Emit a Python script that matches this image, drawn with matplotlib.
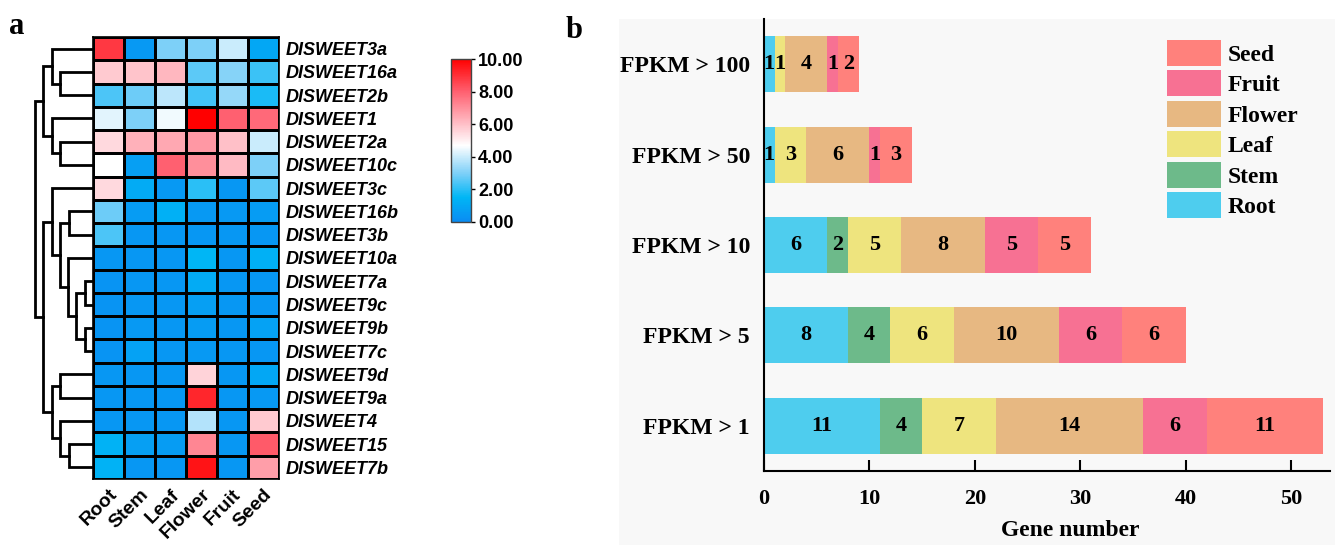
import numpy as np
import matplotlib
matplotlib.use('Agg')
import matplotlib.pyplot as plt
from matplotlib.colors import LinearSegmentedColormap
from matplotlib.patches import Rectangle, Patch

# heatmap data (rows top to bottom)
genes = ['DISWEET3a', 'DISWEET16a', 'DISWEET2b', 'DISWEET1', 'DISWEET2a', 'DISWEET10c',
         'DISWEET3c', 'DISWEET16b', 'DISWEET3b', 'DISWEET10a', 'DISWEET7a', 'DISWEET9c',
         'DISWEET9b', 'DISWEET7c', 'DISWEET9d', 'DISWEET9a', 'DISWEET4', 'DISWEET15', 'DISWEET7b']
tissues = ['Root', 'Stem', 'Leaf', 'Flower', 'Fruit', 'Seed']
expr = [
    [8.8, 0.5, 3.0, 3.0, 4.0, 1.0],
    [5.8, 5.9, 6.2, 2.6, 3.1, 2.2],
    [2.4, 2.8, 3.8, 2.3, 3.3, 1.8],
    [4.3, 3.0, 4.5, 10.0, 8.0, 7.8],
    [5.5, 6.3, 6.5, 6.8, 6.0, 4.0],
    [4.7, 0.7, 8.0, 7.0, 6.1, 3.0],
    [5.5, 1.1, 0.5, 2.0, 0.4, 2.6],
    [2.8, 0.6, 1.3, 0.5, 0.5, 0.6],
    [2.4, 0.4, 0.4, 0.4, 0.4, 0.4],
    [0.4, 0.4, 0.4, 1.5, 0.4, 1.3],
    [0.3, 0.4, 0.4, 1.1, 0.4, 0.4],
    [0.3, 0.4, 0.4, 0.7, 0.4, 0.4],
    [0.3, 0.5, 0.4, 0.6, 0.4, 0.8],
    [0.3, 0.8, 0.4, 0.5, 0.4, 0.4],
    [0.4, 0.4, 0.4, 5.6, 0.4, 1.0],
    [0.4, 0.4, 0.4, 9.2, 0.4, 0.5],
    [0.4, 0.4, 0.4, 3.7, 0.4, 5.8],
    [1.4, 0.7, 0.6, 7.2, 0.4, 8.1],
    [1.4, 0.4, 0.4, 9.6, 0.4, 6.7],
]

# row clustering tree: (left, right, merge height)
tree = (
    (('DISWEET3a', ('DISWEET16a', 'DISWEET2b', 33), 41.3),
     ('DISWEET1', ('DISWEET2a', 'DISWEET10c', 33), 41.3), 49.7),
    (('DISWEET3c',
      (('DISWEET16b', 'DISWEET3b', 24),
       ('DISWEET10a', (('DISWEET7a', 'DISWEET9c', 8), ('DISWEET9b', 'DISWEET7c', 8), 17), 24.7), 33), 41.3),
     (('DISWEET9d', 'DISWEET9a', 33),
      ('DISWEET4', ('DISWEET15', 'DISWEET7b', 24), 33), 41.3), 50.3),
    58.5)

# bar chart data
categories = ['FPKM > 1', 'FPKM > 5', 'FPKM > 10', 'FPKM > 50', 'FPKM > 100']
root = [11, 8, 6, 1, 1]
stem = [4, 4, 2, 0, 0]
leaf = [7, 6, 5, 3, 1]
flower = [14, 10, 8, 6, 4]
fruit = [6, 6, 5, 1, 1]
seed = [11, 6, 5, 3, 2]

W, H = 1335, 545
fig = plt.figure(figsize=(W / 100, H / 100), dpi=100)


def box(x0, y0, x1, y1):
    # pixel box (top-left origin) -> figure rect
    return [x0 / W, 1 - y1 / H, (x1 - x0) / W, (y1 - y0) / H]


# light grey panel behind b
fig.patches.append(Rectangle((619 / W, 0), 1 - 619 / W, 1 - 19 / H, transform=fig.transFigure,
                             facecolor='#f8f8f8', edgecolor='none', zorder=-10))

cmap = LinearSegmentedColormap.from_list('bwr_tb', [
    (0.0, '#0a8cf2'), (0.15, '#00b6f5'), (0.3, '#7fd0f8'), (0.47, '#ffffff'),
    (0.6, '#ffc0c8'), (0.8, '#ff6070'), (1.0, '#ff0000')])

sans = 'Liberation Sans'
serif = 'Liberation Serif'

# heatmap
axh = fig.add_axes(box(93, 37, 279, 479))
data = np.array(expr)
mesh = axh.pcolormesh(data, cmap=cmap, vmin=0, vmax=10, edgecolors='black', linewidth=1)
axh.set_ylim(len(genes), 0)
axh.set_xlim(0, len(tissues))
axh.yaxis.tick_right()
axh.set_yticks(np.arange(len(genes)) + 0.5)
axh.set_yticklabels(genes, fontfamily=sans, fontweight='bold', fontstyle='italic', fontsize=13)
axh.set_xticks(np.arange(len(tissues)) + 0.5)
axh.set_xticklabels(tissues, fontfamily=sans, fontweight='bold', fontsize=14,
                    rotation=45, ha='right', va='top', rotation_mode='anchor')
axh.tick_params(length=0, pad=5)
for s in axh.spines.values():
    s.set_linewidth(1.2)

# dendrogram
axd = fig.add_axes(box(33, 37, 93, 479))
axd.set_xlim(60, 0)
axd.set_ylim(len(genes), 0)
axd.axis('off')


def draw(node):
    if isinstance(node, str):
        return 0.0, genes.index(node) + 0.5
    left, right, h = node
    hl, yl = draw(left)
    hr, yr = draw(right)
    axd.plot([hl, h, h, hr], [yl, yl, yr, yr], color='black', lw=2, solid_joinstyle='miter')
    return h, (yl + yr) / 2


draw(tree)

# colorbar
cax = fig.add_axes(box(451, 59, 471, 222))
cb = fig.colorbar(mesh, cax=cax, ticks=[0, 2, 4, 6, 8, 10], format='%.2f')
cb.outline.set_edgecolor('#444444')
cb.outline.set_linewidth(1)
cax.tick_params(length=3, width=1, pad=2)
for t in cax.get_yticklabels():
    t.set_fontfamily(sans)
    t.set_fontweight('bold')
    t.set_fontsize(13)

fig.text(9 / W, 1 - 12 / H, 'a', fontfamily=serif, fontweight='bold', fontsize=22, va='top')
fig.text(566 / W, 1 - 16 / H, 'b', fontfamily=serif, fontweight='bold', fontsize=22, va='top')

# stacked bars
axb = fig.add_axes(box(764, 19, 1330, 471))
axb.set_facecolor('none')
names = ['Root', 'Stem', 'Leaf', 'Flower', 'Fruit', 'Seed']
colors = ['#4ecdee', '#6dba8a', '#eee47e', '#e7b882', '#f77193', '#ff817c']
series = [root, stem, leaf, flower, fruit, seed]
y = np.arange(len(categories))
left = np.zeros(len(categories))
for name, vals, c in zip(names, series, colors):
    vals = np.array(vals)
    axb.barh(y, vals, left=left, height=0.62, color=c, label=name)
    for yi, (l0, v) in enumerate(zip(left, vals)):
        if v > 0:
            axb.text(l0 + v / 2, yi, str(v), ha='center', va='center',
                     fontfamily=serif, fontweight='bold', fontsize=16)
    left += vals

axb.set_xlim(0, 53.7)
axb.set_ylim(-0.5, 4.5)
axb.set_yticks(y)
axb.set_yticklabels(categories, fontfamily=serif, fontweight='bold', fontsize=17)
axb.tick_params(axis='y', length=0, pad=10)
axb.set_xticks([0, 10, 20, 30, 40, 50])
axb.set_xticklabels(['0', '10', '20', '30', '40', '50'], fontfamily=serif, fontweight='bold', fontsize=16)
axb.tick_params(axis='x', direction='in', length=8, width=1.5, pad=13)
axb.set_xlabel('Gene number', fontfamily=serif, fontweight='bold', fontsize=17)
axb.xaxis.set_label_coords((1070 - 764) / 566, -0.108)
axb.spines['top'].set_visible(False)
axb.spines['right'].set_visible(False)
axb.spines['left'].set_linewidth(1.5)
axb.spines['bottom'].set_linewidth(1.5)

handles = [Patch(facecolor=c, edgecolor='none', label=n) for n, c in zip(names, colors)][::-1]
axb.legend(handles=handles, loc='upper left', bbox_to_anchor=(1167 / W, 1 - 40 / H),
           bbox_transform=fig.transFigure, frameon=False, borderpad=0, borderaxespad=0,
           handlelength=2.3, handleheight=1.3, handletextpad=0.25, labelspacing=0.2,
           prop={'family': serif, 'weight': 'bold', 'size': 17})

fig.savefig('out.png', dpi=100)
